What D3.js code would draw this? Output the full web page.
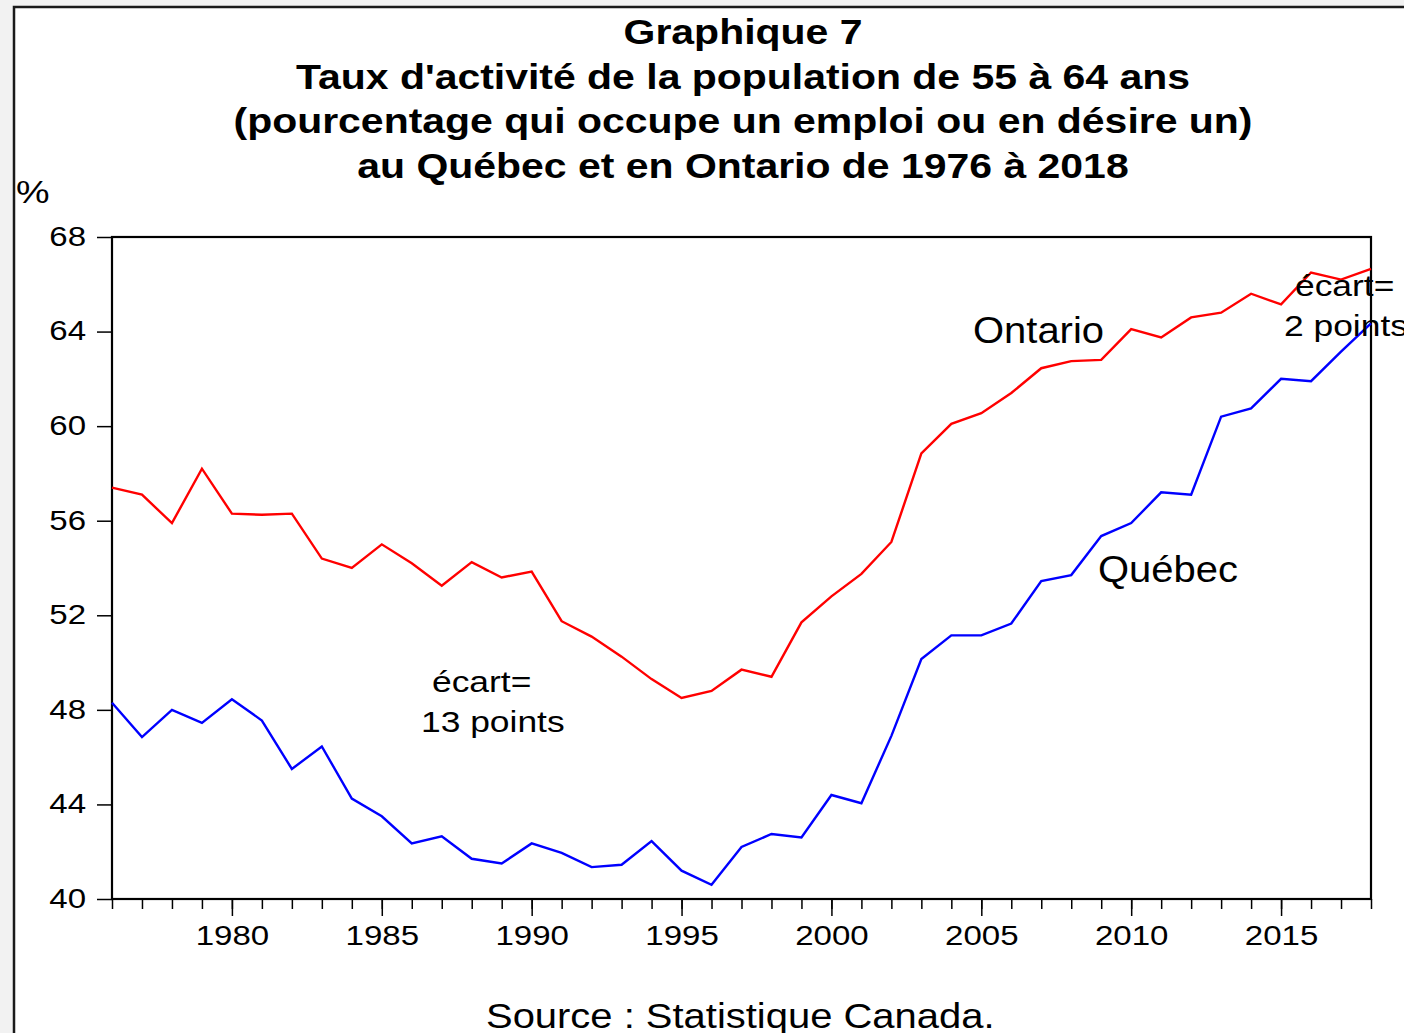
<!DOCTYPE html>
<html>
<head>
<meta charset="utf-8">
<script src="https://cdn.jsdelivr.net/npm/d3@7"></script>
<style>
  body { margin: 0; background: #f2f2f2; }
  svg { display: block; }
</style>
</head>
<body>
<svg id="chart" width="1404" height="1033"></svg>
<script>
var years = d3.range(1976, 2019);

var ontario = [57.4, 57.1, 55.9, 58.2, 56.3, 56.25, 56.3, 54.4, 54.0, 55.0,
  54.2, 53.25, 54.25, 53.6, 53.85, 51.75, 51.1, 50.25, 49.3, 48.5,
  48.8, 49.7, 49.4, 51.7, 52.8, 53.75, 55.1, 58.85, 60.1, 60.55,
  61.4, 62.45, 62.75, 62.8, 64.1, 63.75, 64.6, 64.8, 65.6, 65.15,
  66.5, 66.2, 66.65];

var quebec = [48.3, 46.85, 48.0, 47.45, 48.45, 47.55, 45.5, 46.45, 44.25, 43.5,
  42.35, 42.65, 41.7, 41.5, 42.35, 41.95, 41.35, 41.45, 42.45, 41.2,
  40.6, 42.2, 42.75, 42.6, 44.4, 44.05, 46.9, 50.15, 51.15, 51.15,
  51.65, 53.45, 53.7, 55.35, 55.9, 57.2, 57.1, 60.4, 60.75, 62.0,
  61.9, 63.15, 64.35];

var yTicks = [40, 44, 48, 52, 56, 60, 64, 68];
var xLabelTicks = [1980, 1985, 1990, 1995, 2000, 2005, 2010, 2015];

var titleLines = [
  'Graphique 7',
  "Taux d'activité de la population de 55 à 64 ans",
  '(pourcentage qui occupe un emploi ou en désire un)',
  'au Québec et en Ontario de 1976 à 2018'
];

function drawChart(selector) {
  var font = '"Liberation Sans", Arial, sans-serif';
  var svg = d3.select(selector);

  var plotLeft = 112, plotRight = 1371, plotTop = 237, plotBottom = 899;

  var x = d3.scaleLinear().domain([1976, 2018]).range([plotLeft, plotRight]);
  var y = d3.scaleLinear().domain([40, 68]).range([plotBottom, plotTop]);

  // white panel
  svg.append('rect')
    .attr('x', 14)
    .attr('y', 7)
    .attr('width', 1400)
    .attr('height', 1040)
    .style('fill', '#ffffff')
    .style('stroke', '#1a1a1a')
    .style('stroke-width', 2.5);

  // title
  svg.selectAll('.title-text')
    .data(titleLines)
    .enter().append('text')
    .attr('class', 'title-text')
    .attr('transform', function(d, i) {
      return 'translate(743,' + (44 + i * 44.7) + ') scale(1.17,1)';
    })
    .style('text-anchor', 'middle')
    .style('font-family', font)
    .style('font-size', '35px')
    .style('font-weight', 'bold')
    .style('fill', '#000000')
    .text(function(d) { return d; });

  // stretched plain text
  function label(txt, px, py, size, sx) {
    svg.append('text')
      .attr('transform', 'translate(' + px + ',' + py + ') scale(' + sx + ',1)')
      .style('font-family', font)
      .style('font-size', size + 'px')
      .style('fill', '#000000')
      .text(txt);
  }

  label('%', 16, 203, 32, 1.18);

  // axes
  var yAxis = svg.append('g')
    .attr('transform', 'translate(' + plotLeft + ',0)')
    .call(d3.axisLeft(y).tickValues(yTicks).tickSize(15).tickPadding(7).tickSizeOuter(0));

  yAxis.selectAll('text')
    .attr('transform', 'scale(1.18,1)')
    .attr('dy', '0.3em')
    .style('font-family', font)
    .style('font-size', '28px')
    .style('fill', '#000000');

  svg.append('g')
    .attr('transform', 'translate(0,' + plotBottom + ')')
    .call(d3.axisBottom(x).tickValues(years).tickSize(10).tickFormat('').tickSizeOuter(0));

  var xMajor = svg.append('g')
    .attr('transform', 'translate(0,' + plotBottom + ')')
    .call(d3.axisBottom(x).tickValues(xLabelTicks).tickSize(17).tickPadding(9)
      .tickFormat(d3.format('d')).tickSizeOuter(0));

  xMajor.selectAll('text')
    .attr('transform', 'scale(1.18,1)')
    .style('font-family', font)
    .style('font-size', '28px')
    .style('fill', '#000000');

  svg.selectAll('.domain').remove();
  svg.selectAll('.tick line')
    .style('stroke', '#000000')
    .style('stroke-width', 1.5);

  // plot frame
  svg.append('rect')
    .attr('x', plotLeft)
    .attr('y', plotTop)
    .attr('width', plotRight - plotLeft)
    .attr('height', plotBottom - plotTop)
    .style('fill', 'none')
    .style('stroke', '#000000')
    .style('stroke-width', 2.2);

  // series
  var line = d3.line()
    .x(function(d, i) { return x(years[i]); })
    .y(function(d) { return y(d); });

  svg.append('path')
    .datum(ontario)
    .attr('d', line)
    .style('fill', 'none')
    .style('stroke', '#ff0000')
    .style('stroke-width', 2.4);

  svg.append('path')
    .datum(quebec)
    .attr('d', line)
    .style('fill', 'none')
    .style('stroke', '#0000ff')
    .style('stroke-width', 2.4);

  // annotations
  label('Ontario', 973, 343, 37, 1.08);
  label('Québec', 1098, 582, 37, 1.08);
  label('écart=', 432, 692, 30, 1.18);
  label('13 points', 421, 732, 30, 1.18);
  label('écart=', 1295, 296, 30, 1.18);
  label('2 points', 1284, 336, 30, 1.18);

  label('Source : Statistique Canada.', 486, 1028, 36, 1.11);
}

drawChart('#chart');
</script>
</body>
</html>
